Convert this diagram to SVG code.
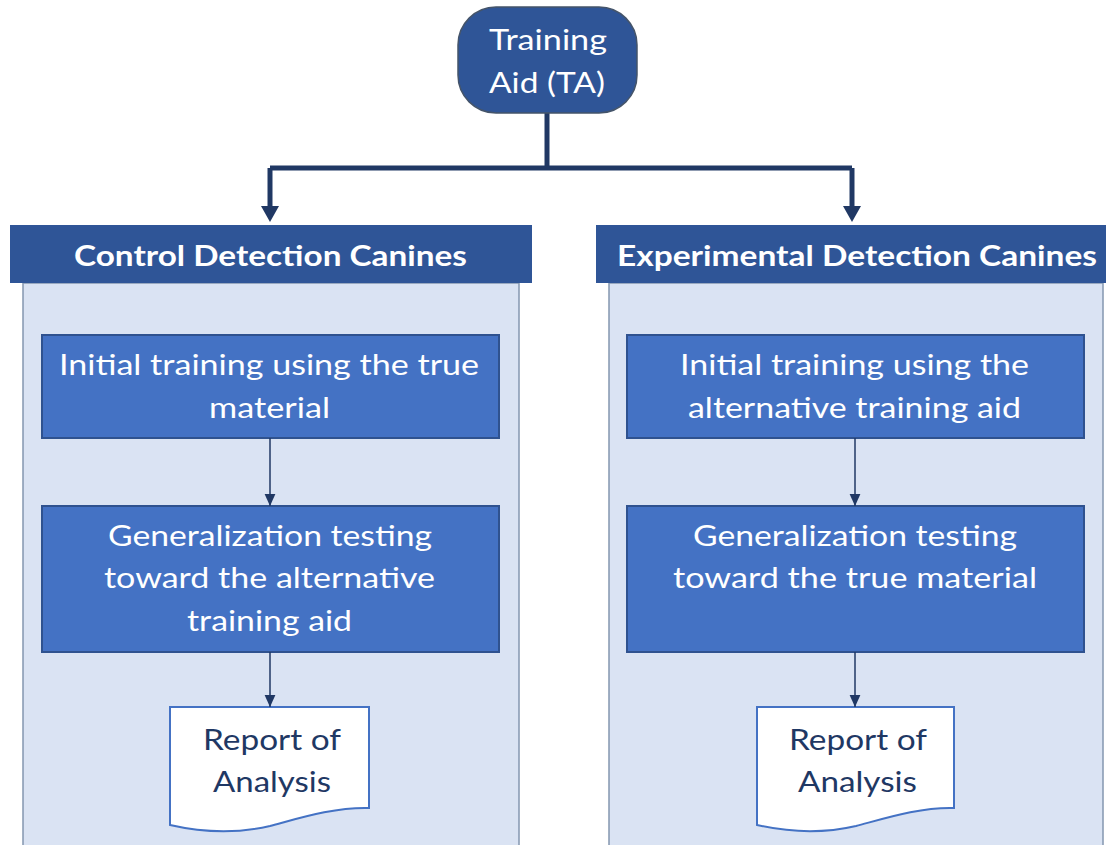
<svg xmlns="http://www.w3.org/2000/svg" width="1106" height="845" viewBox="0 0 1106 845">
<defs>
<style>
.hdr{fill:#2F5597}
.panel{fill:#DAE3F3;stroke:#8497B0;stroke-width:1.5}
.box{fill:#4472C4;stroke:#2F528F;stroke-width:2}
.doc{fill:#FFFFFF;stroke:#4472C4;stroke-width:2}
.wt{font-family:Lato,"Liberation Sans",sans-serif;font-size:28px;fill:#FFFFFF;text-anchor:middle}
.bt{font-family:Lato,"Liberation Sans",sans-serif;font-size:28px;font-weight:bold;fill:#FFFFFF;text-anchor:middle}
.dt{font-family:Lato,"Liberation Sans",sans-serif;font-size:29px;fill:#1F3864;text-anchor:middle}
.thick{stroke:#203864;stroke-width:5;fill:none}
.thin{stroke:#203864;stroke-width:1.5;fill:none}
</style>
<marker id="ah" viewBox="0 0 10 10" refX="10" refY="5" markerWidth="12" markerHeight="12" markerUnits="userSpaceOnUse" orient="auto">
<path d="M0,0.5 L10,5 L0,9.5 Z" fill="#203864"/>
</marker>
</defs>
<rect width="1106" height="845" fill="#FFFFFF"/>

<g id="connectors">
<path class="thick" d="M547,113 V168 M270,168 H852"/>
<path class="thick" d="M270,168 V208"/>
<path class="thick" d="M852,168 V208"/>
<path d="M261,206 L279,206 L270,222 Z" fill="#203864"/>
<path d="M843,206 L861,206 L852,222 Z" fill="#203864"/>
</g>

<g id="ta">
<rect x="458" y="7" width="179" height="106" rx="38" ry="38" fill="#2F5597" stroke="#44546A" stroke-width="1.5"/>
<text class="wt" x="548" y="50" textLength="118" lengthAdjust="spacingAndGlyphs">Training</text>
<text class="wt" x="547" y="93" textLength="116" lengthAdjust="spacingAndGlyphs">Aid (TA)</text>
</g>

<g id="control">
<rect class="panel" x="23" y="283" width="496" height="575"/>
<rect class="hdr" x="10" y="225" width="522" height="58"/>
<text class="bt" x="270.5" y="266" textLength="393" lengthAdjust="spacingAndGlyphs">Control Detection Canines</text>
</g>

<g id="experimental">
<rect class="panel" x="609" y="283" width="494" height="575"/>
<rect class="hdr" x="596" y="225" width="512" height="58"/>
<text class="bt" x="857" y="266" textLength="480" lengthAdjust="spacingAndGlyphs">Experimental Detection Canines</text>
</g>

<g id="c-initial">
<rect class="box" x="42" y="335" width="457" height="103"/>
<text class="wt" x="269" y="375" textLength="420" lengthAdjust="spacingAndGlyphs">Initial training using the true</text>
<text class="wt" x="269.5" y="418" textLength="121" lengthAdjust="spacingAndGlyphs">material</text>
</g>

<g id="c-general">
<rect class="box" x="42" y="506" width="457" height="146"/>
<text class="wt" x="270" y="546" textLength="324" lengthAdjust="spacingAndGlyphs">Generalization testing</text>
<text class="wt" x="269.5" y="588" textLength="331" lengthAdjust="spacingAndGlyphs">toward the alternative</text>
<text class="wt" x="269.5" y="631" textLength="165" lengthAdjust="spacingAndGlyphs">training aid</text>
</g>

<g id="c-report">
<path class="doc" d="M170,707 H369 V808 C335,807 300,818 270,826 C240,833 205,833 170,825 Z"/>
<text class="dt" x="272" y="750" textLength="138" lengthAdjust="spacingAndGlyphs">Report of</text>
<text class="dt" x="272" y="792" textLength="118" lengthAdjust="spacingAndGlyphs">Analysis</text>
</g>

<g id="e-initial">
<rect class="box" x="627" y="335" width="457" height="103"/>
<text class="wt" x="854.5" y="375" textLength="349" lengthAdjust="spacingAndGlyphs">Initial training using the</text>
<text class="wt" x="854.5" y="418" textLength="333" lengthAdjust="spacingAndGlyphs">alternative training aid</text>
</g>

<g id="e-general">
<rect class="box" x="627" y="506" width="457" height="146"/>
<text class="wt" x="855" y="546" textLength="324" lengthAdjust="spacingAndGlyphs">Generalization testing</text>
<text class="wt" x="855" y="588" textLength="364" lengthAdjust="spacingAndGlyphs">toward the true material</text>
</g>

<g id="e-report">
<path class="doc" d="M757,707 H954 V808 C920,807 886,818 856,826 C826,833 792,833 757,825 Z"/>
<text class="dt" x="858" y="750" textLength="138" lengthAdjust="spacingAndGlyphs">Report of</text>
<text class="dt" x="857.5" y="792" textLength="119" lengthAdjust="spacingAndGlyphs">Analysis</text>
</g>

<g id="inner-connectors">
<line class="thin" x1="270" y1="438" x2="270" y2="506" marker-end="url(#ah)"/>
<line class="thin" x1="270" y1="652" x2="270" y2="707" marker-end="url(#ah)"/>
<line class="thin" x1="855" y1="438" x2="855" y2="506" marker-end="url(#ah)"/>
<line class="thin" x1="855" y1="652" x2="855" y2="707" marker-end="url(#ah)"/>
</g>
</svg>
